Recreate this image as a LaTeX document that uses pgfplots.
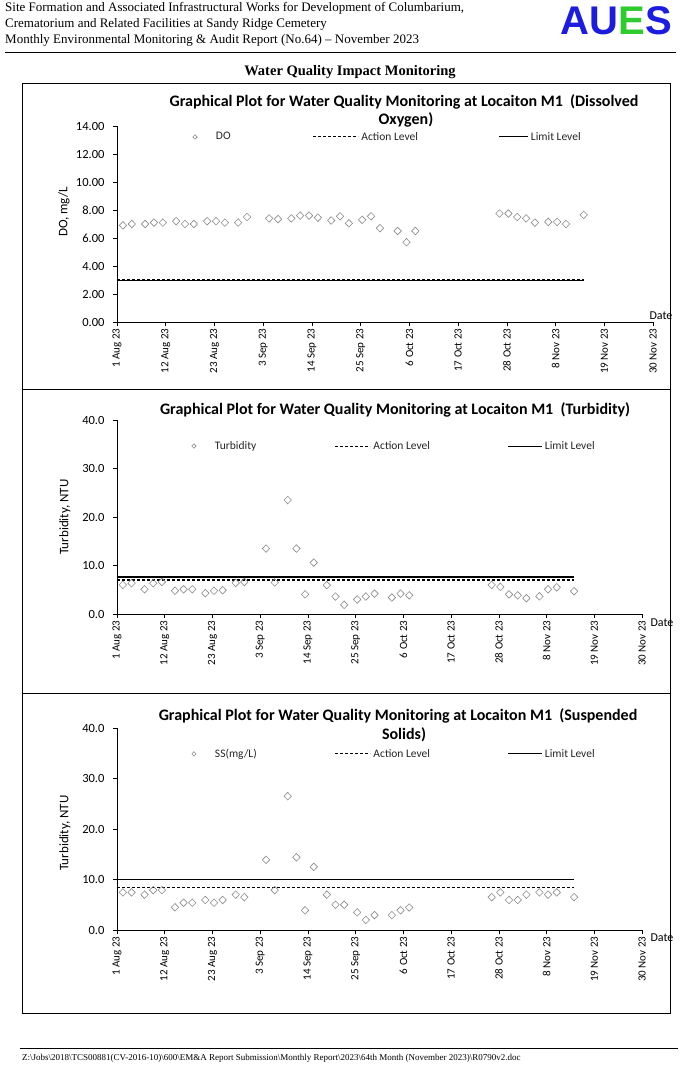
\documentclass[border=0pt]{standalone}
\usepackage{fontspec}
\setmainfont{Carlito}
\newfontfamily\timesf{Liberation Serif}
\newfontfamily\arialf{Liberation Sans}
\usepackage{pgfplots}
\usepackage{pgfplotstable}
\pgfplotsset{compat=1.18}

\definecolor{aublue}{HTML}{1C1CE0}
\definecolor{augreen}{HTML}{2ECC2E}
\definecolor{mkgray}{HTML}{8C8C8C}
\newcommand{\fsz}[1]{\fontsize{#1}{#1}\selectfont}

% day offsets from 1 Aug 2023
\pgfplotstableread{
d     do    tu    ss
1.35  6.90  6.00  7.45
3.35  7.00  6.35  7.45
6.35  7.00  5.10  7.00
8.35  7.10  6.35  7.90
10.35 7.10  6.60  7.90
13.35 7.20  4.80  4.50
15.35 7.00  5.10  5.40
17.35 7.00  5.10  5.40
20.35 7.20  4.30  5.95
22.35 7.20  4.80  5.40
24.35 7.10  4.90  5.95
27.35 7.10  6.40  7.00
29.35 7.50  6.60  6.50
34.35 7.40  13.5  13.9
36.35 7.35  6.50  7.90
39.35 7.40  23.5  26.5
41.35 7.60  13.5  14.4
43.35 7.60  4.05  3.90
45.35 7.45  10.6  12.5
48.35 7.25  5.95  7.00
50.35 7.55  3.60  5.00
52.35 7.05  1.90  5.00
55.35 7.30  3.00  3.50
57.35 7.55  3.60  2.00
59.35 6.70  4.20  2.95
63.35 6.50  3.40  2.95
65.35 5.70  4.20  3.90
67.35 6.50  3.85  4.45
86.35 7.75  6.00  6.50
88.35 7.75  5.60  7.45
90.35 7.50  4.05  5.95
92.35 7.40  3.85  5.95
94.35 7.10  3.25  7.00
97.35 7.15  3.65  7.45
99.35 7.15  5.10  7.00
101.35 7.00 5.50  7.45
105.35 7.65 4.70  6.50
}\wqdata

\pgfplotsset{
  wq/.style={
    scale only axis, clip=false,
    axis lines*=left,
    xmin=0, xmax=121, ymin=0,
    xtick={0,11,...,121},
    xticklabels={1 Aug 23,12 Aug 23,23 Aug 23,3 Sep 23,14 Sep 23,25 Sep 23,6 Oct 23,17 Oct 23,28 Oct 23,8 Nov 23,19 Nov 23,30 Nov 23},
    xticklabel style={rotate=90, anchor=east, font=\fsz{11}, inner sep=2.5pt},
    yticklabel style={font=\fsz{12.5}, xshift=-5pt},
    tick align=outside,
    major tick length=4pt,
    every tick/.style={black, line width=0.6pt},
    axis line style={black, line width=0.7pt},
    /pgf/number format/assume math mode=true,
    legend columns=3,
    legend cell align=left,
    legend style={draw=none, fill=none, font=\fsz{11.5}, text=black!85, inner sep=0pt, outer sep=0pt,
      column sep=0pt, nodes={inner sep=0pt}, anchor=west},
  },
  pts/.style={only marks, mark=diamond, mark size=3.8pt,
    mark options={xscale=1.3, draw=mkgray, fill=white, line width=0.6pt}},
  act/.style={black, line width=1.3pt, dash pattern=on 3pt off 2pt},
  lim/.style={black, line width=1.3pt},
  limg mark/.style={legend image code/.code={\path[draw=none, fill=none] (0pt,-3pt) rectangle (#1,3pt);
      \draw[##1, mark size=2.2pt] plot coordinates {(4pt,0pt)};}},
  limg line/.style 2 args={legend image code/.code={\path[draw=none, fill=none] (0pt,-3pt) rectangle (#2,3pt);
      \draw[##1, line width=1pt] (0pt,0pt) -- (#1,0pt);}},
}

\begin{document}
\begin{tikzpicture}[x=1pt,y=1pt]
\useasboundingbox (0,0) rectangle (681,-1065);
\fill[white] (0,0) rectangle (681,-1065);

% page header
\node[anchor=west, font=\timesf\fsz{13}, inner sep=0pt] at (5,-8) {Site Formation and Associated Infrastructural Works for Development of Columbarium,};
\node[anchor=west, font=\timesf\fsz{13}, inner sep=0pt] at (5,-24) {Crematorium and Related Facilities at Sandy Ridge Cemetery};
\node[anchor=west, font=\timesf\fsz{13}, inner sep=0pt] at (5,-40) {Monthly Environmental Monitoring \& Audit Report (No.64) – November 2023};
\node[anchor=east, font=\arialf\bfseries\fsz{40}, inner sep=0pt] at (672,-21)
  {\textcolor{aublue}{AU}\textcolor{augreen}{E}\textcolor{aublue}{S}};
\draw[line width=1pt] (5,-53) -- (676,-53);
\node[font=\timesf\bfseries\fsz{14.5}, inner sep=0pt] at (350,-72) {Water Quality Impact Monitoring};

% frames
\draw[line width=1pt] (22,-83) rectangle (670,-1013);
\draw[line width=1pt] (22,-389) -- (670,-389);
\draw[line width=1pt] (22,-693) -- (670,-693);

% footer
\draw[line width=0.8pt] (20,-1048) -- (678,-1048);
\node[anchor=west, font=\timesf\fsz{9}, inner sep=0pt] at (22,-1058)
  {Z:\textbackslash Jobs\textbackslash 2018\textbackslash TCS00881(CV-2016-10)\textbackslash 600\textbackslash EM\&A Report Submission\textbackslash Monthly Report\textbackslash 2023\textbackslash 64th Month (November 2023)\textbackslash R0790v2.doc};

% ---------- chart 1: DO ----------
\node[font=\bfseries\fsz{16}] at (404,-102) {Graphical Plot for Water Quality Monitoring at Locaiton M1\ \ (Dissolved};
\node[font=\bfseries\fsz{16}] at (406,-120) {Oxygen)};
\node[rotate=90, font=\fsz{13}] at (64,-212) {DO, mg/L};
\node[font=\fsz{12}] at (661,-316) {Date};
\begin{axis}[wq, at={(117pt,-322pt)}, anchor=south west, width=536pt, height=196pt,
    ymax=14, ytick={0,2,...,14},
    yticklabel style={/pgf/number format/.cd, fixed, fixed zerofill, precision=2},
    legend style={at={(axis description cs:0.138,0.944)}}]
  \addplot[pts, limg mark=25pt] table[x=d, y=do] {\wqdata};
  \addlegendentry{\makebox[97pt][l]{DO}}
  \addplot[act, limg line={45pt}{48pt}] coordinates {(0,3.0) (105.35,3.0)};
  \addlegendentry{\makebox[137pt][l]{Action Level}}
  \addplot[lim, limg line={29pt}{32pt}] coordinates {(0,2.95) (105.35,2.95)};
  \addlegendentry{Limit Level}
\end{axis}

% ---------- chart 2: Turbidity ----------
\node[font=\bfseries\fsz{16}] at (395,-410) {Graphical Plot for Water Quality Monitoring at Locaiton M1\ \ (Turbidity)};
\node[rotate=90, font=\fsz{13}] at (65,-517) {Turbidity, NTU};
\node[font=\fsz{12}] at (662,-623) {Date};
\begin{axis}[wq, at={(117pt,-614pt)}, anchor=south west, width=525pt, height=194pt,
    ymax=40, ytick={0,10,...,40},
    yticklabel style={/pgf/number format/.cd, fixed, fixed zerofill, precision=1},
    legend style={at={(axis description cs:0.139,0.866)}}]
  \addplot[pts, limg mark=25pt] table[x=d, y=tu] {\wqdata};
  \addlegendentry{\makebox[120pt][l]{Turbidity}}
  \addplot[act, limg line={35pt}{38pt}] coordinates {(0,7.0) (105.35,7.0)};
  \addlegendentry{\makebox[134pt][l]{Action Level}}
  \addplot[lim, limg line={34pt}{37pt}] coordinates {(0,7.6) (105.35,7.6)};
  \addlegendentry{Limit Level}
\end{axis}

% ---------- chart 3: Suspended Solids ----------
\node[font=\bfseries\fsz{16}] at (398,-716) {Graphical Plot for Water Quality Monitoring at Locaiton M1\ \ (Suspended};
\node[font=\bfseries\fsz{16}] at (404,-735) {Solids)};
\node[rotate=90, font=\fsz{13}] at (65,-833) {Turbidity, NTU};
\node[font=\fsz{12}] at (662,-938) {Date};
\begin{axis}[wq, at={(117pt,-930pt)}, anchor=south west, width=525pt, height=202pt,
    ymax=40, ytick={0,10,...,40},
    yticklabel style={/pgf/number format/.cd, fixed, fixed zerofill, precision=1},
    legend style={at={(axis description cs:0.139,0.872)}}]
  \addplot[pts, limg mark=25pt] table[x=d, y=ss] {\wqdata};
  \addlegendentry{\makebox[120pt][l]{SS(mg/L)}}
  \addplot[act, limg line={35pt}{38pt}] coordinates {(0,8.4) (105.35,8.4)};
  \addlegendentry{\makebox[134pt][l]{Action Level}}
  \addplot[lim, limg line={34pt}{37pt}] coordinates {(0,10.0) (105.35,10.0)};
  \addlegendentry{Limit Level}
\end{axis}
\end{tikzpicture}
\end{document}
